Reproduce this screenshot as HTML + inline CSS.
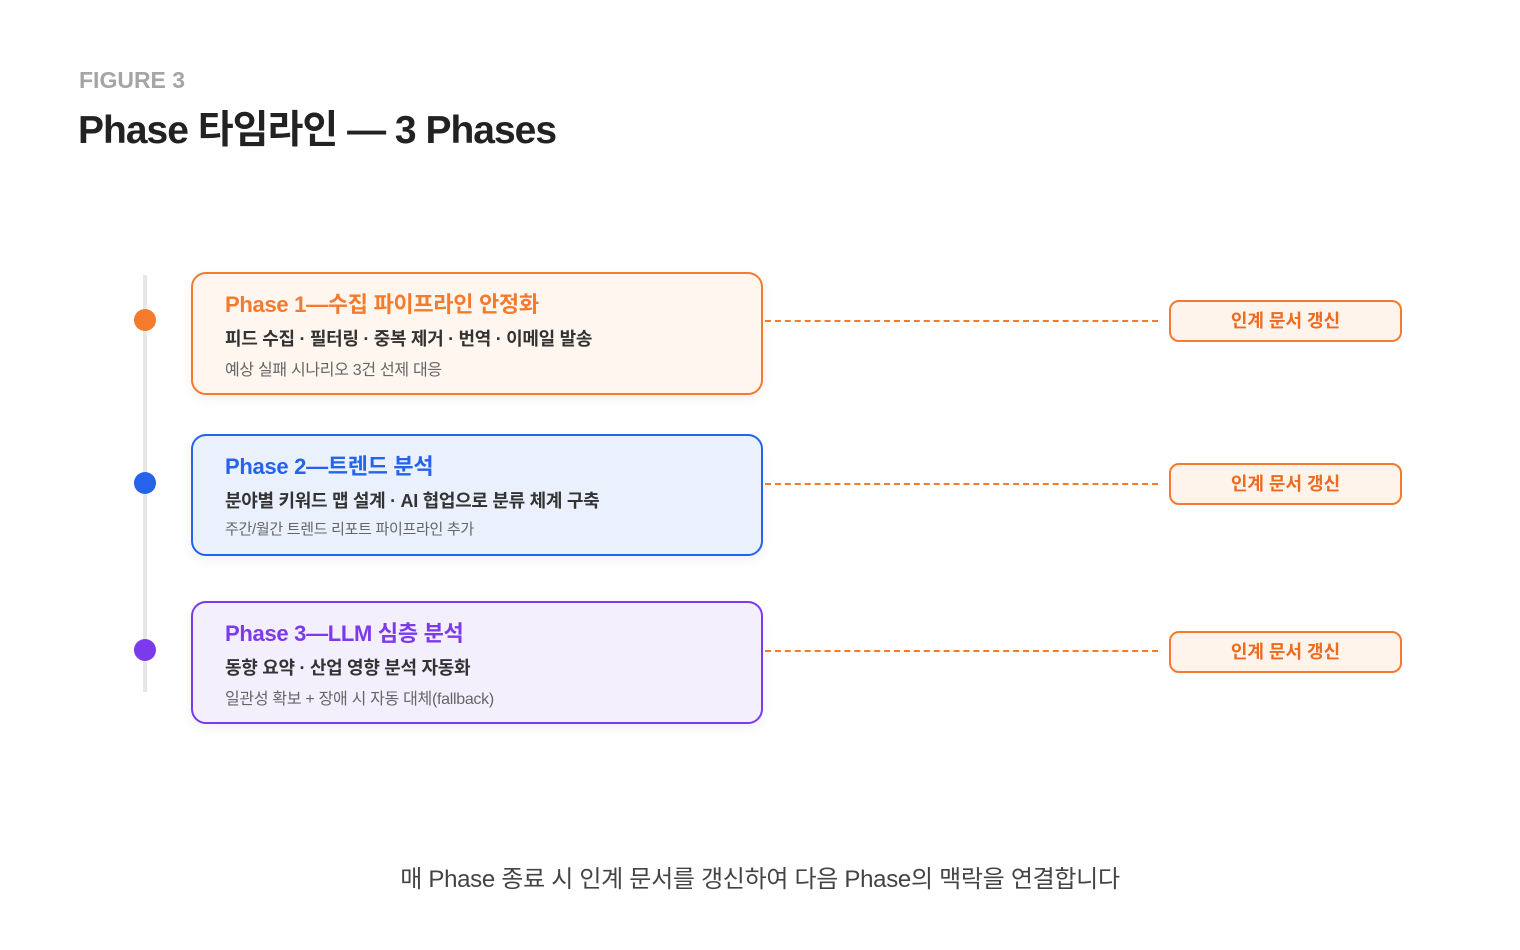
<!DOCTYPE html>
<html><head><meta charset="utf-8"><style>
body{margin:0;width:1520px;height:950px;background:#fff;position:relative;font-family:"Liberation Sans","Noto Sans CJK KR",sans-serif;overflow:hidden}
.a{position:absolute;white-space:nowrap}
.box{position:absolute;left:191px;width:568px;border:2.5px solid;border-radius:15px;box-sizing:content-box;box-shadow:0 4px 12px rgba(0,0,0,0.06)}
.t{position:absolute;left:32px;top:13px;font-size:22px;font-weight:700;letter-spacing:-0.3px}
.s{position:absolute;left:32px;top:51px;font-size:18px;font-weight:700;color:#333;letter-spacing:-0.3px}
.n{position:absolute;left:32px;top:82px;font-size:16px;color:#666;letter-spacing:-0.3px}
.dot{position:absolute;left:134px;width:22px;height:22px;border-radius:50%}
.dash{position:absolute;left:765px;width:393px;border-top:2px dashed #f47a2c}
.badge{position:absolute;left:1169px;width:229px;height:38px;border:2px solid #f47a2c;border-radius:10px;background:#fff4ec;color:#ee6a1f;font-size:18px;font-weight:700;text-align:center;line-height:38px}
</style></head><body>
<div class="a" style="left:79px;top:67px;font-size:23px;font-weight:700;color:#a5a5a5">FIGURE 3</div>
<div class="a" style="left:78px;top:99px;font-size:39px;font-weight:700;color:#222;letter-spacing:-1px">Phase 타임라인 — 3 Phases</div>
<div class="a" style="left:143px;top:275px;width:4px;height:417px;background:#e6e6e6"></div>
<div class="dot" style="top:309px;background:#f47a2c"></div>
<div class="dot" style="top:472px;background:#2563eb"></div>
<div class="dot" style="top:639px;background:#7c3aed"></div>

<div class="box" style="top:272px;height:119px;border-color:#f47a2c;background:#fff6ef">
<div class="t" style="color:#f47a2c">Phase 1—수집 파이프라인 안정화</div>
<div class="s">피드 수집 · 필터링 · 중복 제거 · 번역 · 이메일 발송</div>
<div class="n">예상 실패 시나리오 3건 선제 대응</div></div>
<div class="box" style="top:434px;height:118px;border-color:#2563eb;background:#eaf1fd">
<div class="t" style="color:#2563eb">Phase 2—트렌드 분석</div>
<div class="s">분야별 키워드 맵 설계 · AI 협업으로 분류 체계 구축</div>
<div class="n" style="font-size:15px">주간/월간 트렌드 리포트 파이프라인 추가</div></div>
<div class="box" style="top:601px;height:119px;border-color:#7c3aed;background:#f4effd">
<div class="t" style="color:#7c3aed">Phase 3—LLM 심층 분석</div>
<div class="s">동향 요약 · 산업 영향 분석 자동화</div>
<div class="n">일관성 확보 + 장애 시 자동 대체(fallback)</div></div>

<div class="dash" style="top:320px"></div>
<div class="dash" style="top:483px"></div>
<div class="dash" style="top:650px"></div>
<div class="badge" style="top:300px">인계 문서 갱신</div>
<div class="badge" style="top:463px">인계 문서 갱신</div>
<div class="badge" style="top:631px">인계 문서 갱신</div>

<div class="a" style="left:0;width:1520px;text-align:center;top:859px;font-size:24px;color:#444;letter-spacing:-0.3px">매 Phase 종료 시 인계 문서를 갱신하여 다음 Phase의 맥락을 연결합니다</div>
</body></html>
